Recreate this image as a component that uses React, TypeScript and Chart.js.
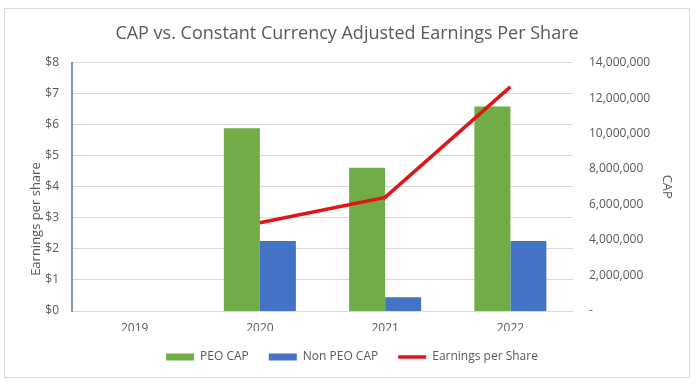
import React, { useEffect, useRef } from "react";
import { Chart, registerables } from "chart.js";

Chart.register(...registerables);

const TITLE = "CAP vs. Constant Currency Adjusted Earnings Per Share";
const CATEGORIES = ["2019", "2020", "2021", "2022"];
const PEO_CAP = [null, 10300000, 8080000, 11530000];
const NON_PEO_CAP = [null, 3950000, 780000, 3950000];
const EPS = [null, 2.84, 3.66, 7.22];
const LEFT_TITLE = "Earnings per share";
const RIGHT_TITLE = "CAP";
const LEFT_MAX = 8;
const RIGHT_MAX = 14000000;

const FONT = '"Open Sans", "DejaVu Sans", sans-serif';
const TEXT = "#595959";

const leftTitlePlugin = {
  id: "leftTitle",
  afterLayout(chart: any) {
    if (chart.legend) {
      chart.legend.left += 5;
      chart.legend.right += 5;
    }
  },
  afterDraw(chart: any) {
    const { ctx, chartArea } = chart;
    ctx.save();
    ctx.font = `13px ${FONT}`;
    ctx.fillStyle = TEXT;
    ctx.textAlign = "center";
    ctx.textBaseline = "middle";
    ctx.translate(chartArea.left - 36, chartArea.top + chartArea.height * 0.63);
    ctx.rotate(-Math.PI / 2);
    ctx.fillText(LEFT_TITLE, 0, 0);
    ctx.restore();
  },
};

export default function App() {
  const ref = useRef<HTMLCanvasElement>(null);
  useEffect(() => {
    if (!ref.current) return;
    const chart = new Chart(ref.current, {
      type: "bar",
      data: {
        labels: CATEGORIES,
        datasets: [
          {
            type: "bar",
            label: "PEO CAP",
            data: PEO_CAP as any,
            backgroundColor: "#70ad47",
            yAxisID: "yR",
            order: 1,
            pointStyle: "rect",
            categoryPercentage: 0.575,
            barPercentage: 1,
          } as any,
          {
            type: "bar",
            label: "Non PEO CAP",
            data: NON_PEO_CAP as any,
            backgroundColor: "#4472c4",
            yAxisID: "yR",
            order: 2,
            pointStyle: "rect",
            categoryPercentage: 0.575,
            barPercentage: 1,
          } as any,
          {
            type: "line",
            label: "Earnings per Share",
            data: EPS as any,
            borderColor: "#e01515",
            backgroundColor: "#e01515",
            borderWidth: 3.5,
            pointRadius: 0,
            pointStyle: "line",
            yAxisID: "yL",
            order: 0,
            tension: 0,
          } as any,
        ],
      },
      options: {
        animation: false,
        responsive: false,
        layout: { padding: { left: 0, right: 0, top: 0, bottom: 4 } },
        plugins: {
          title: {
            display: true,
            text: TITLE,
            color: TEXT,
            font: { family: FONT, size: 18, weight: "normal" },
            padding: { top: 14, bottom: 18 },
          },
          legend: {
            position: "bottom",
            labels: {
              usePointStyle: true,
              pointStyleWidth: 28,
              boxHeight: 7,
              padding: 20,
              color: TEXT,
              font: { family: FONT, size: 12 },
              sort: (a: any, b: any) => a.datasetIndex - b.datasetIndex,
            },
          },
          tooltip: { enabled: false },
        },
        scales: {
          x: {
            grid: { display: false, drawTicks: false },
            border: { display: false },
            ticks: { color: TEXT, font: { family: FONT, size: 12 }, padding: 10 },
            afterFit: (s: any) => { s.height = 20; },
          },
          yL: {
            position: "left",
            min: 0,
            max: LEFT_MAX,
            ticks: {
              stepSize: 1,
              color: TEXT,
              font: { family: FONT, size: 12 },
              padding: 13,
              callback: (v: any) => "$" + v,
            },
            grid: { color: "#d9d9d9", lineWidth: 1, drawTicks: false },
            border: { display: true, color: "#8497b0", width: 2 },
            afterFit: (s: any) => { s.width = 67; },
          },
          yR: {
            position: "right",
            min: 0,
            max: RIGHT_MAX,
            ticks: {
              stepSize: 2000000,
              color: TEXT,
              font: { family: FONT, size: 12 },
              padding: 16,
              callback: (v: any) => (v === 0 ? "-" : Number(v).toLocaleString("en-US")),
            },
            grid: { display: false, drawTicks: false },
            border: { display: false },
            title: {
              display: true,
              text: RIGHT_TITLE,
              color: TEXT,
              font: { family: FONT, size: 13 },
              padding: { top: 14, bottom: 0 },
            },
            afterFit: (s: any) => { s.width = 116; },
          },
        },
      } as any,
      plugins: [leftTitlePlugin],
    });
    return () => chart.destroy();
  }, []);

  return (
    <div style={{ position: "absolute", left: 0, top: 0, width: 700, height: 389, background: "#fff" }}>
      <div
        style={{
          position: "absolute",
          left: 4,
          top: 8,
          width: 686,
          height: 370,
          boxSizing: "border-box",
          border: "1px solid #d9d9d9",
        }}
      >
        <canvas ref={ref} width={684} height={368} style={{ display: "block", width: 684, height: 368 }} />
      </div>
    </div>
  );
}
